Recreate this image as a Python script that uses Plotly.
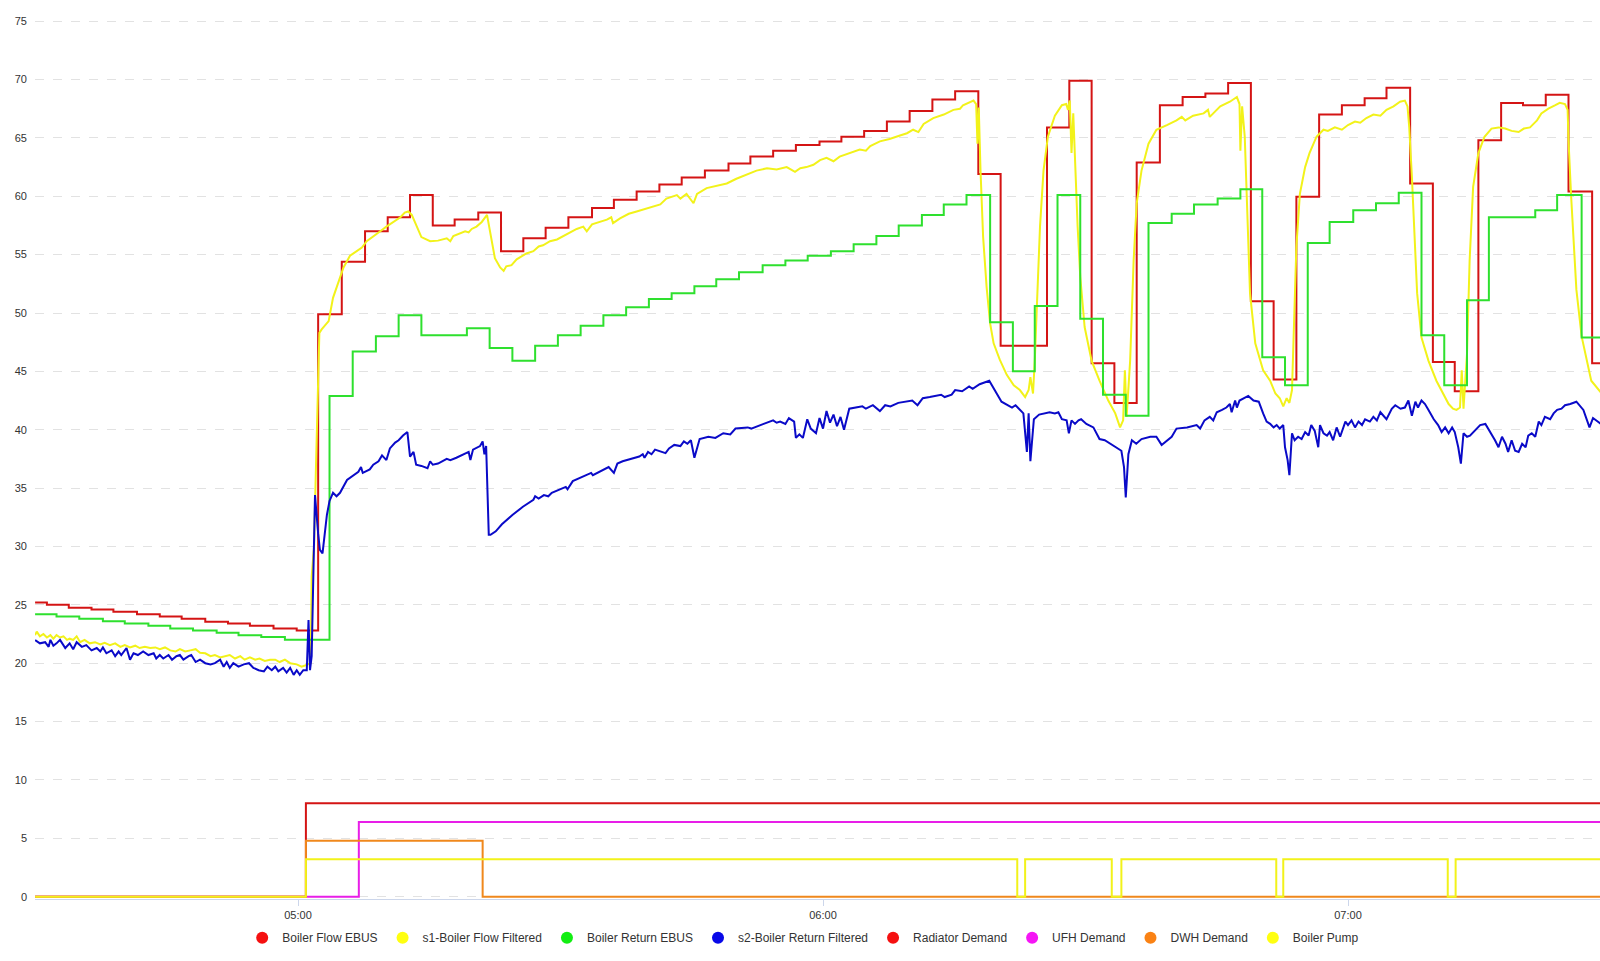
import pandas as pd
import plotly.graph_objects as go

# readings are (minutes after 05:00, value)
BASE = pd.Timestamp("2023-01-01 05:00")

boiler_flow_ebus = [
    (-30.05, 25.2), (-28.7, 25.0), (-26.2, 24.75), (-23.6, 24.6), (-21.1, 24.4), (-18.4, 24.2),
    (-15.8, 24.0), (-13.3, 23.8), (-10.6, 23.55), (-8.0, 23.4), (-5.5, 23.2), (-2.8, 22.97),
    (-0.15, 22.8), (2.3, 49.9), (5.0, 54.4), (7.66, 57.0), (10.25, 58.2), (12.8, 60.1),
    (15.4, 57.5), (17.9, 58.0), (20.6, 58.6), (23.2, 55.3), (25.75, 56.4), (28.3, 57.3),
    (30.9, 58.2), (33.6, 59.0), (36.1, 59.7), (38.7, 60.4), (41.3, 61.0), (43.85, 61.6),
    (46.5, 62.2), (49.2, 62.8), (51.7, 63.4), (54.3, 63.9), (56.9, 64.4), (59.6, 64.7),
    (62.1, 65.1), (64.7, 65.6), (67.3, 66.4), (69.9, 67.3), (72.5, 68.3), (75.1, 69.0),
    (77.75, 61.9), (80.3, 47.2), (85.6, 65.9), (88.15, 69.9), (90.7, 45.7), (93.3, 42.3),
    (95.85, 62.9), (98.5, 67.8), (101.1, 68.5), (103.7, 68.8), (106.3, 69.7), (108.9, 51.0),
    (111.5, 44.3), (114.1, 59.95), (116.7, 67.0), (119.3, 67.8), (121.9, 68.4), (124.4, 69.3),
    (127.1, 61.1), (129.7, 45.8), (132.2, 43.3), (134.9, 64.8), (137.5, 68.0), (140.0, 67.8),
    (142.6, 68.7), (145.2, 60.4), (147.9, 45.7), (149.0, 45.7),
]

s1_flow_filtered = [
    (-30.05, 22.4), (-29.86, 22.7), (-29.5, 22.3), (-29.1, 22.5), (-28.7, 22.2), (-28.3, 22.4),
    (-27.96, 22.1), (-27.6, 22.4), (-27.2, 22.2), (-26.8, 22.3), (-26.4, 22.0), (-26.1, 22.1),
    (-25.7, 22.0), (-25.3, 22.3), (-24.9, 21.8), (-24.4, 22.0), (-23.8, 21.7), (-23.2, 21.8),
    (-22.6, 21.6), (-22.1, 21.75), (-21.5, 21.55), (-20.9, 21.7), (-20.3, 21.4), (-19.8, 21.55),
    (-19.2, 21.35), (-18.6, 21.5), (-18.1, 21.3), (-17.5, 21.4), (-16.9, 21.3), (-16.3, 21.35),
    (-15.8, 21.2), (-15.2, 21.35), (-14.6, 21.1), (-14.0, 21.0), (-13.5, 21.2), (-12.9, 21.0),
    (-12.3, 21.1), (-11.7, 21.2), (-11.2, 20.9), (-10.6, 20.85), (-10.0, 20.6), (-9.5, 20.7),
    (-8.9, 20.5), (-8.3, 20.6), (-7.8, 20.7), (-7.2, 20.4), (-6.6, 20.6), (-6.1, 20.3),
    (-5.5, 20.5), (-4.9, 20.3), (-4.4, 20.4), (-3.8, 20.2), (-3.2, 20.3), (-2.6, 20.3),
    (-2.1, 20.1), (-1.5, 20.3), (-0.9, 20.0), (-0.15, 19.9), (0.4, 19.7), (0.8, 19.8),
    (1.2, 19.9), (1.45, 20.0), (1.56, 27.4), (1.83, 30.0), (2.06, 37.1), (2.25, 44.3),
    (2.44, 48.3), (2.7, 48.6), (3.1, 49.0), (3.5, 49.3), (4.0, 51.3), (4.6, 52.7),
    (5.2, 53.9), (5.94, 54.9), (6.7, 55.3), (7.3, 55.6), (7.85, 56.15), (8.6, 56.6),
    (9.4, 57.0), (10.1, 57.4), (10.9, 57.8), (11.7, 58.2), (12.2, 58.6), (12.6, 58.7),
    (13.0, 58.4), (13.6, 57.3), (14.1, 56.5), (15.1, 56.15), (16.0, 56.2), (17.0, 56.4),
    (17.4, 56.15), (17.75, 56.6), (18.5, 56.8), (19.1, 57.0), (19.5, 56.9), (19.85, 57.2),
    (20.4, 57.4), (21.0, 57.8), (21.6, 58.4), (21.75, 57.8), (22.1, 56.15), (22.5, 54.7),
    (23.1, 53.9), (23.5, 53.6), (23.8, 54.0), (24.4, 54.1), (24.99, 54.6), (25.6, 54.9),
    (26.1, 55.1), (26.9, 55.3), (27.5, 55.7), (28.0, 55.8), (28.8, 56.15), (29.6, 56.3),
    (30.3, 56.6), (31.1, 56.9), (31.85, 57.2), (32.6, 57.4), (33.0, 57.0), (33.6, 57.6),
    (34.5, 57.8), (35.3, 58.0), (35.8, 58.2), (36.0, 57.7), (36.8, 58.1), (37.8, 58.5),
    (38.7, 58.7), (39.7, 58.9), (40.6, 59.1), (41.4, 59.3), (42.1, 59.8), (43.3, 60.1),
    (43.7, 59.8), (44.4, 60.2), (45.2, 59.4), (45.6, 60.2), (46.7, 60.7), (47.8, 60.9),
    (49.0, 61.1), (50.1, 61.5), (51.3, 61.9), (52.4, 62.2), (53.6, 62.4), (54.7, 62.3),
    (55.85, 62.5), (56.8, 62.1), (57.4, 62.4), (58.1, 62.5), (58.9, 62.7), (59.66, 63.1),
    (60.4, 63.3), (61.2, 63.0), (61.9, 63.4), (63.0, 63.7), (64.2, 64.0), (64.9, 63.9),
    (65.4, 64.3), (66.5, 64.7), (67.6, 64.9), (68.8, 65.2), (69.6, 65.4), (70.3, 65.7),
    (70.9, 65.5), (71.5, 66.2), (72.6, 66.7), (73.8, 67.0), (74.9, 67.4), (75.66, 67.5),
    (76.0, 67.8), (77.2, 68.2), (77.5, 67.9), (77.65, 64.5), (77.8, 67.6), (78.0, 62.2),
    (78.3, 56.5), (78.7, 52.2), (79.1, 49.1), (79.5, 47.4), (80.2, 46.0), (81.0, 44.7),
    (81.8, 43.8), (82.5, 43.4), (83.1, 42.8), (83.5, 43.4), (83.7, 44.5), (84.0, 43.1),
    (84.2, 45.9), (84.5, 51.7), (84.8, 57.4), (85.2, 62.2), (85.7, 65.1), (86.5, 66.9),
    (87.3, 67.8), (87.8, 67.9), (88.0, 67.4), (88.2, 68.2), (88.4, 63.7), (88.6, 67.1),
    (88.8, 63.1), (89.1, 57.4), (89.4, 53.1), (89.9, 48.8), (90.7, 45.9), (91.6, 44.2),
    (92.6, 42.5), (93.4, 41.4), (93.95, 40.2), (94.3, 40.8), (94.5, 45.1), (94.7, 41.1),
    (95.1, 45.9), (95.5, 54.5), (95.85, 59.4), (96.4, 62.2), (97.2, 64.5), (98.1, 65.7),
    (99.3, 66.1), (100.4, 66.5), (101.0, 66.8), (101.4, 66.5), (102.3, 66.9), (103.5, 67.1),
    (104.0, 67.4), (104.2, 66.8), (105.4, 67.7), (106.5, 68.1), (107.3, 68.5), (107.6, 67.9),
    (107.7, 63.9), (107.9, 67.7), (108.2, 65.1), (108.5, 57.4), (108.8, 51.7), (109.4, 47.4),
    (110.3, 45.1), (111.1, 44.2), (111.7, 43.1), (112.2, 42.7), (112.6, 42.0), (112.99, 42.7),
    (113.3, 42.3), (113.6, 43.4), (113.8, 48.8), (114.1, 55.7), (114.5, 60.2), (115.1, 62.5),
    (115.6, 63.7), (116.4, 65.1), (117.2, 65.7), (117.7, 65.6), (118.5, 65.9), (119.3, 65.7),
    (120.0, 66.1), (120.8, 66.4), (121.4, 66.3), (122.1, 66.7), (122.9, 67.0), (123.7, 66.9),
    (124.4, 67.4), (125.2, 67.7), (125.95, 68.1), (126.5, 68.2), (126.8, 67.7), (127.0, 65.9),
    (127.3, 61.7), (127.6, 55.9), (127.9, 51.7), (128.4, 47.9), (129.2, 45.9), (130.1, 44.2),
    (130.9, 43.1), (131.5, 42.2), (132.0, 41.8), (132.4, 41.7), (132.8, 41.9), (133.0, 45.1),
    (133.2, 41.8), (133.6, 46.5), (133.9, 54.5), (134.3, 60.8), (134.9, 63.7), (135.6, 65.1),
    (136.4, 65.8), (137.2, 65.9), (137.96, 65.8), (138.7, 65.6), (139.5, 65.5), (140.1, 65.8),
    (140.8, 65.9), (141.6, 66.5), (142.1, 67.1), (142.9, 67.5), (143.7, 67.8), (144.2, 68.0),
    (144.8, 67.9), (145.1, 67.4), (145.2, 64.8), (145.5, 60.0), (146.1, 52.0), (146.7, 48.0),
    (147.8, 44.2), (148.9, 43.2),
]

boiler_return_ebus = [
    (-30.05, 24.2), (-27.6, 24.0), (-25.0, 23.8), (-22.3, 23.6), (-19.8, 23.4), (-17.1, 23.2),
    (-14.6, 22.97), (-12.0, 22.8), (-9.3, 22.6), (-6.8, 22.4), (-4.2, 22.25), (-1.5, 22.0),
    (3.6, 42.9), (6.25, 46.7), (8.9, 48.0), (11.5, 49.8), (14.1, 48.1), (19.3, 48.7),
    (21.9, 47.0), (24.5, 45.9), (27.1, 47.2), (29.7, 48.1), (32.3, 48.9), (34.9, 49.8),
    (37.5, 50.5), (40.1, 51.2), (42.7, 51.7), (45.3, 52.3), (47.8, 52.9), (50.4, 53.5),
    (53.1, 54.1), (55.7, 54.5), (58.25, 54.9), (60.9, 55.3), (63.5, 55.9), (66.1, 56.6),
    (68.65, 57.5), (71.3, 58.4), (73.8, 59.3), (76.4, 60.1), (79.1, 49.2), (81.7, 45.0),
    (84.2, 50.6), (86.8, 60.1), (89.4, 49.5), (92.0, 43.0), (94.6, 41.2), (97.2, 57.7),
    (99.85, 58.5), (102.4, 59.3), (105.1, 59.8), (107.7, 60.6), (110.2, 46.2), (112.8, 43.8),
    (115.4, 56.0), (117.9, 57.8), (120.6, 58.8), (123.2, 59.4), (125.8, 60.3), (128.4, 48.1),
    (131.0, 43.8), (133.6, 51.1), (136.1, 58.2), (141.4, 58.8), (143.9, 60.1), (146.7, 47.9),
    (149.0, 47.9),
]

s2_return_filtered = [
    (-30.05, 21.98), (-29.5, 21.7), (-28.9, 21.8), (-28.5, 21.4), (-28.3, 22.0), (-27.96, 21.5),
    (-27.6, 21.7), (-27.2, 22.0), (-26.6, 21.3), (-26.1, 21.7), (-25.7, 21.2), (-25.3, 21.8),
    (-24.7, 21.4), (-24.2, 21.55), (-23.6, 21.1), (-23.0, 21.3), (-22.6, 21.0), (-22.3, 21.35),
    (-21.9, 20.85), (-21.3, 21.1), (-20.9, 20.6), (-20.5, 21.0), (-20.2, 20.7), (-19.6, 21.3),
    (-19.2, 20.3), (-18.8, 20.85), (-18.3, 20.7), (-17.7, 21.0), (-17.1, 20.7), (-16.5, 20.85),
    (-16.2, 20.4), (-15.8, 20.7), (-15.4, 20.4), (-14.8, 20.7), (-14.4, 20.3), (-13.9, 20.6),
    (-13.5, 20.7), (-13.1, 20.3), (-12.5, 20.6), (-12.2, 20.7), (-11.7, 20.1), (-11.2, 20.3),
    (-10.6, 20.0), (-10.0, 19.9), (-9.5, 20.0), (-8.9, 20.3), (-8.5, 19.7), (-8.15, 20.1),
    (-7.8, 19.6), (-7.4, 20.0), (-6.8, 19.7), (-6.2, 19.9), (-5.6, 20.0), (-5.1, 19.6),
    (-4.5, 19.4), (-3.9, 19.3), (-3.5, 19.7), (-3.0, 19.4), (-2.6, 19.7), (-2.25, 19.3),
    (-1.7, 19.6), (-1.3, 19.2), (-0.9, 19.6), (-0.5, 19.0), (-0.15, 19.4), (0.2, 19.0),
    (0.6, 19.4), (1.0, 19.4), (1.2, 23.7), (1.37, 19.4), (1.56, 20.6), (1.75, 27.1),
    (1.94, 34.4), (2.3, 31.1), (2.5, 29.7), (2.8, 29.4), (3.1, 31.4), (3.3, 32.7),
    (3.6, 33.9), (4.0, 34.6), (4.4, 34.3), (4.8, 34.6), (5.6, 35.7), (6.3, 36.1),
    (6.9, 36.4), (7.2, 36.8), (7.4, 36.3), (8.2, 36.6), (8.6, 37.0), (9.2, 37.3),
    (9.6, 37.8), (10.1, 37.4), (10.5, 38.4), (11.1, 38.9), (11.5, 39.1), (12.0, 39.5),
    (12.5, 39.8), (12.8, 37.7), (13.2, 38.1), (13.5, 37.0), (14.1, 36.9), (14.8, 36.7),
    (15.1, 37.3), (15.4, 37.0), (16.0, 37.1), (17.0, 37.5), (17.4, 37.4), (18.1, 37.6),
    (18.9, 37.9), (19.5, 38.1), (19.7, 37.4), (20.0, 38.3), (20.8, 38.6), (21.1, 39.0),
    (21.3, 37.9), (21.5, 38.6), (21.8, 31.0), (22.0, 31.0), (22.6, 31.3), (23.3, 31.9),
    (24.5, 32.7), (25.7, 33.4), (26.9, 34.0), (27.1, 34.3), (27.5, 34.1), (28.1, 34.4),
    (28.6, 34.3), (29.0, 34.6), (30.6, 35.1), (30.8, 34.9), (31.4, 35.6), (33.0, 36.1),
    (33.5, 36.3), (33.7, 36.1), (35.1, 36.7), (35.5, 36.8), (36.1, 36.3), (36.5, 37.1),
    (37.1, 37.3), (39.0, 37.7), (39.4, 37.9), (39.6, 37.6), (40.0, 38.1), (40.4, 37.9),
    (40.8, 38.3), (42.0, 38.0), (42.4, 38.4), (43.0, 38.7), (43.7, 38.6), (44.1, 39.0),
    (44.5, 38.8), (44.9, 39.1), (45.3, 37.6), (45.9, 39.2), (46.9, 39.4), (47.7, 39.3),
    (48.6, 39.7), (49.4, 39.6), (50.0, 40.1), (51.4, 40.2), (51.8, 40.1), (53.5, 40.6),
    (54.3, 40.8), (54.7, 40.6), (55.1, 40.7), (55.7, 40.5), (56.1, 41.0), (56.7, 40.7),
    (56.9, 39.3), (57.3, 39.6), (57.7, 39.3), (58.2, 40.9), (58.6, 40.1), (59.2, 39.7),
    (59.6, 41.0), (60.0, 40.1), (60.4, 41.6), (60.8, 40.6), (61.2, 41.3), (61.6, 40.3),
    (62.0, 41.1), (62.4, 40.0), (63.0, 41.8), (64.5, 42.0), (64.9, 41.8), (65.7, 42.1),
    (66.5, 41.6), (67.1, 42.1), (67.7, 42.0), (68.6, 42.3), (70.2, 42.5), (70.8, 42.1),
    (71.4, 42.7), (72.2, 42.8), (73.5, 43.0), (73.9, 42.8), (74.7, 43.0), (75.1, 43.4),
    (75.9, 43.3), (76.7, 43.7), (77.1, 43.5), (77.9, 43.9), (79.0, 44.2), (80.4, 42.4),
    (81.6, 41.9), (82.0, 42.1), (82.9, 41.4), (83.3, 38.1), (83.5, 41.4), (83.7, 37.3),
    (84.1, 40.9), (84.7, 41.3), (85.4, 41.4), (85.9, 41.5), (86.5, 41.4), (86.9, 41.5),
    (87.3, 40.9), (87.84, 40.8), (88.1, 39.7), (88.4, 40.8), (88.8, 40.5), (89.2, 40.8),
    (89.5, 40.9), (90.1, 40.5), (90.9, 40.2), (91.6, 39.2), (92.2, 39.1), (92.8, 38.8),
    (93.4, 38.5), (94.1, 38.2), (94.4, 36.8), (94.6, 34.2), (94.9, 37.9), (95.3, 39.1),
    (95.8, 38.8), (96.4, 39.2), (97.4, 39.4), (98.1, 39.4), (98.7, 38.7), (99.3, 39.1),
    (99.85, 39.4), (100.4, 40.1), (101.6, 40.2), (102.7, 40.4), (103.1, 40.1), (103.6, 40.8),
    (104.2, 41.1), (104.6, 40.8), (105.0, 41.5), (105.6, 41.7), (106.1, 41.9), (106.5, 42.2),
    (106.7, 41.5), (107.1, 42.5), (107.3, 41.9), (107.6, 42.5), (108.6, 42.9), (109.2, 42.5),
    (109.8, 42.4), (110.3, 41.4), (110.7, 40.7), (111.1, 40.5), (111.5, 40.2), (111.85, 40.4),
    (112.2, 40.1), (112.6, 40.4), (112.8, 38.5), (113.1, 37.4), (113.3, 36.1), (113.6, 39.7),
    (113.9, 39.1), (114.3, 39.4), (114.7, 39.2), (115.1, 39.8), (115.5, 39.5), (115.8, 40.4),
    (116.2, 39.9), (116.6, 38.5), (116.8, 40.4), (117.2, 39.7), (117.6, 39.5), (117.9, 39.8),
    (118.3, 39.1), (118.7, 40.2), (119.1, 39.4), (119.7, 40.7), (120.0, 40.4), (120.4, 40.8),
    (120.8, 40.2), (121.2, 40.7), (121.6, 40.4), (121.95, 40.9), (122.5, 40.7), (122.9, 41.1),
    (123.3, 40.8), (123.7, 41.5), (124.4, 40.9), (125.0, 41.8), (125.4, 42.1), (126.0, 41.8),
    (126.5, 41.9), (126.9, 42.5), (127.3, 41.2), (127.7, 42.4), (128.0, 41.9), (128.4, 42.5),
    (128.8, 42.2), (129.2, 41.7), (129.8, 40.9), (130.3, 40.4), (130.7, 39.8), (131.1, 40.2),
    (131.5, 39.7), (131.9, 40.2), (132.2, 39.8), (132.6, 38.5), (132.9, 37.1), (133.2, 39.7),
    (133.6, 39.4), (133.94, 39.5), (134.5, 39.9), (135.1, 40.4), (135.7, 40.5), (136.2, 39.9),
    (136.8, 39.1), (137.2, 38.5), (137.6, 39.4), (138.0, 38.8), (138.3, 38.1), (138.7, 39.1),
    (139.1, 38.2), (139.5, 38.1), (139.9, 38.8), (140.3, 38.5), (140.6, 39.5), (141.0, 39.7),
    (141.4, 39.4), (141.8, 40.7), (142.1, 40.4), (142.5, 41.1), (143.1, 40.9), (143.5, 41.4),
    (143.9, 41.7), (144.4, 41.8), (144.8, 42.1), (145.4, 42.2), (146.1, 42.4), (146.9, 41.7),
    (147.6, 40.2), (148.0, 41.0), (148.9, 40.5),
]

radiator_demand = [(-30.05, 0), (0.9, 8), (149.0, 8)]
ufh_demand = [(-30.05, 0), (6.95, 6.4), (149.0, 6.4)]
dwh_demand = [(-30.05, 0), (0.9, 4.8), (21.1, 0), (149.0, 0)]
boiler_pump = [
    (-30.05, 0), (0.9, 3.2), (82.2, 0), (83.1, 3.2), (93.0, 0), (94.1, 3.2),
    (111.8, 0), (112.6, 3.2), (131.4, 0), (132.3, 3.2), (149.0, 3.2),
]

series = [
    ("Boiler Flow EBUS", boiler_flow_ebus, "#d41414", "#f51010", "hv"),
    ("s1-Boiler Flow Filtered", s1_flow_filtered, "#f2f21a", "#ffff10", "linear"),
    ("Boiler Return EBUS", boiler_return_ebus, "#2ee02e", "#12ee12", "hv"),
    ("s2-Boiler Return Filtered", s2_return_filtered, "#0a0ac8", "#0808e8", "linear"),
    ("Radiator Demand", radiator_demand, "#d41414", "#f51010", "hv"),
    ("UFH Demand", ufh_demand, "#e81ee8", "#f515f5", "hv"),
    ("DWH Demand", dwh_demand, "#f0881c", "#fa8214", "hv"),
    ("Boiler Pump", boiler_pump, "#f2f21a", "#ffff10", "hv"),
]


def to_time(minutes):
    return BASE + pd.to_timedelta(minutes, unit="min")


fig = go.Figure()
for name, pts, line_col, dot_col, shape in series:
    t = [p[0] for p in pts]
    v = [p[1] for p in pts]
    fig.add_trace(go.Scatter(
        x=to_time(t), y=v, mode="lines", name=name, showlegend=False,
        line=dict(color=line_col, width=2, shape=shape),
    ))

# circle legend entries
for name, pts, line_col, dot_col, shape in series:
    fig.add_trace(go.Scatter(
        x=[None], y=[None], mode="markers", name=name,
        marker=dict(color=dot_col, size=12, symbol="circle"),
    ))

fig.update_layout(
    width=1600, height=961,
    margin=dict(l=35, r=0, t=19.5, b=61.7),
    paper_bgcolor="white", plot_bgcolor="white",
    font=dict(family="Liberation Sans, Arial, sans-serif", size=11, color="#333333"),
    legend=dict(
        orientation="h", xref="container", yref="container",
        x=0.502, xanchor="center", y=0.0242, yanchor="middle",
        font=dict(size=12, color="#333333"), itemwidth=30,
    ),
)

fig.update_xaxes(
    type="date", automargin=False,
    range=[to_time(-30.06), to_time(148.8)],
    tickformat="%H:%M", dtick=3600000, tick0=to_time(0),
    showgrid=False, zeroline=False,
    showline=True, linecolor="#ccd6eb", linewidth=1,
    ticks="outside", ticklen=6, tickcolor="#ccd6eb",
    tickfont=dict(size=11, color="#333333"),
)

fig.update_yaxes(
    range=[-0.2, 75.1], dtick=5, tick0=0, automargin=False,
    showgrid=True, gridcolor="#e2e2e2", griddash="dash", gridwidth=1,
    zeroline=False, showline=False, ticks="", ticklabelstandoff=7,
    tickfont=dict(size=11, color="#333333"),
)

# drop the default page margin so the 1600x961 figure fills the window
fig.write_html(
    "out.html",
    config={"displayModeBar": False},
    post_script="document.body.style.margin = '0';",
)
